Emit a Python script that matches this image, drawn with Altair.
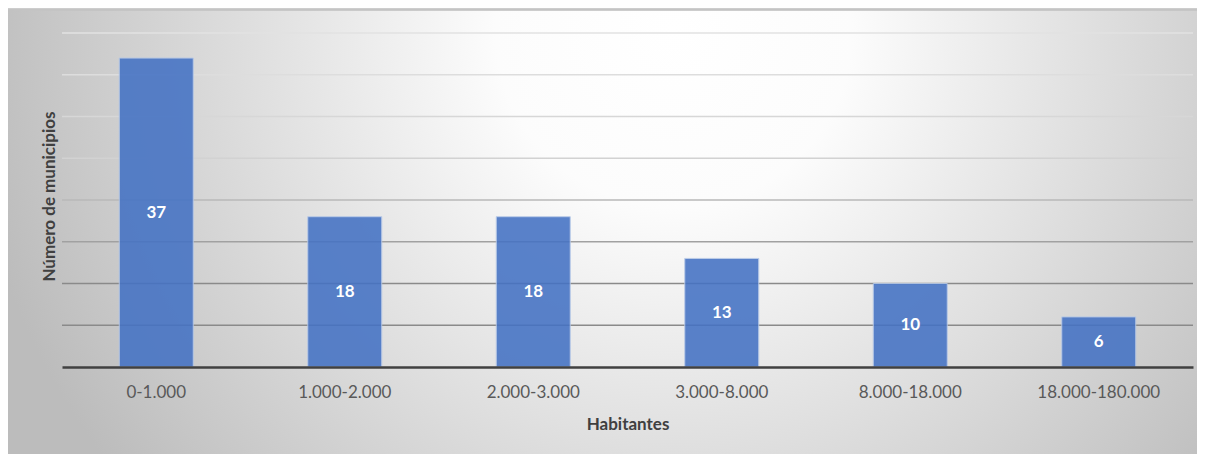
import altair as alt
import pandas as pd

categories = ["0-1.000", "1.000-2.000", "2.000-3.000", "3.000-8.000", "8.000-18.000", "18.000-180.000"]
values = [37, 18, 18, 13, 10, 6]
grid_values = [5, 10, 15, 20, 25, 30, 35, 40]

W, H = 1131, 334
FONT = "Lato"

df = pd.DataFrame({"cat": categories, "val": values})
grid_df = pd.DataFrame({"g": grid_values})

xenc = alt.X("cat:N", sort=categories,
             scale=alt.Scale(paddingInner=0, paddingOuter=0),
             axis=alt.Axis(title="Habitantes", labelAngle=0, ticks=False, tickSize=0,
                           labelPadding=17, labelFont=FONT, labelFontSize=17,
                           labelColor="#595959", domainColor="#404040", domainWidth=2.5,
                           titleFont=FONT, titleFontSize=17, titleFontWeight="bold",
                           titleColor="#404040", titleBaseline="alphabetic", titleY=62,
                           zindex=1))
yscale = alt.Scale(domain=[0, 40], nice=False)
yaxis = alt.Axis(title="Número de municipios", labels=False, ticks=False, domain=False,
                 grid=False, titleFont=FONT, titleFontSize=17, titleFontWeight="bold",
                 titleColor="#404040", titleAngle=270, titleBaseline="alphabetic",
                 titleAlign="center", titleX=-8, titleY=163, zindex=1)

bg = alt.Chart(df).mark_rect(
    color={"gradient": "radial", "x1": 0.56, "y1": 0.33, "r1": 0.0,
           "x2": 0.56, "y2": 0.33, "r2": 0.6,
           "stops": [{"offset": 0.0, "color": "#ffffff"},
                     {"offset": 0.25, "color": "#fcfcfc"},
                     {"offset": 1.0, "color": "#bcbcbc"}]},
    clip=False
).encode(x=alt.value(-54), x2=alt.value(1135), y=alt.value(-24), y2=alt.value(421))

topline = alt.Chart(df).mark_rule(color="#c4c4c4", strokeWidth=1.5, clip=False).encode(
    x=alt.value(-54), x2=alt.value(1135), y=alt.value(-23.5))

grid = alt.Chart(grid_df).mark_rule(strokeWidth=1.5).encode(
    x=alt.value(0), x2=alt.value(W),
    y=alt.Y("g:Q", scale=yscale, axis=yaxis),
    color=alt.Color("g:Q", legend=None,
                    scale=alt.Scale(domain=[10, 25, 40],
                                    range=["#8a8a8a", "#d2d2d2", "#e2e2e2"], clamp=True)))

bars = alt.Chart(df).mark_bar(size=74, color="#4472C4", opacity=0.88,
                              stroke="#b4c7e7", strokeWidth=1).encode(
    x=xenc, y=alt.Y("val:Q", scale=yscale, axis=yaxis))

labels = alt.Chart(df).transform_calculate(mid="datum.val / 2").mark_text(
    color="white", font=FONT, fontSize=17, fontWeight="bold", baseline="middle"
).encode(x=alt.X("cat:N", sort=categories), y=alt.Y("mid:Q", scale=yscale),
         text="val:Q")

chart = alt.layer(bg, topline, grid, bars, labels).resolve_scale(color="independent").properties(
    width=W, height=H,
    autosize=alt.AutoSizeParams(type="none"),
    padding={"left": 54, "top": 25, "right": 4, "bottom": 87},
).configure_view(stroke=None)

chart.save("out.html", embed_options={"renderer": "svg", "actions": False})
